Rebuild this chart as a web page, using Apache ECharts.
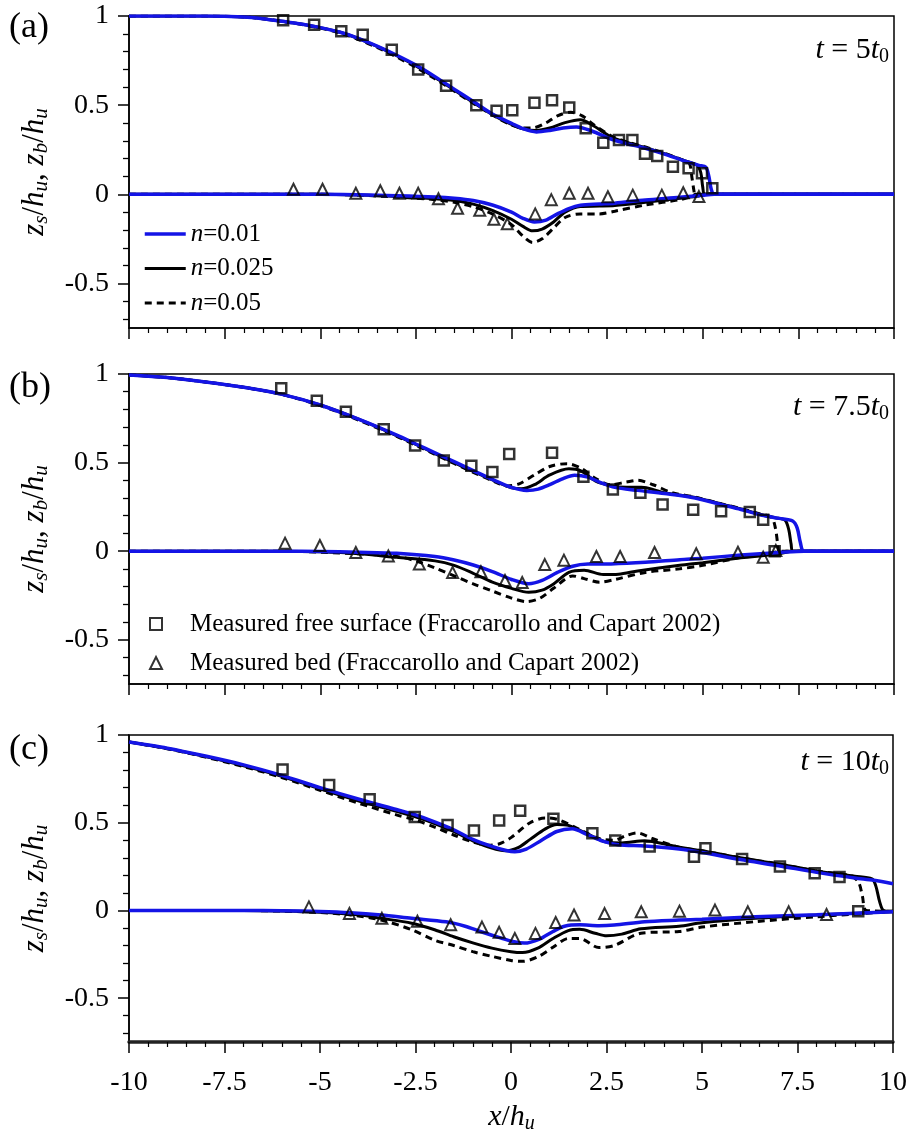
<!DOCTYPE html>
<html>
<head>
<meta charset="utf-8">
<script src="https://cdn.jsdelivr.net/npm/echarts@6/dist/echarts.min.js"></script>
<style>
html,body{margin:0;padding:0;background:#fff}
#chart{width:910px;height:1137px}
</style>
</head>
<body>
<div id="chart"></div>
<script>
// ---------- data: dam-break over mobile bed, three instants ----------
const xTickValues = [-10, -7.5, -5, -2.5, 0, 2.5, 5, 7.5, 10];
const yMajorTicks = [-0.5, 0, 0.5, 1];
const yMinorTicks = [-0.7, -0.6, -0.4, -0.3, -0.2, -0.1, 0.1, 0.2, 0.3, 0.4, 0.6, 0.7, 0.8, 0.9];
const panelTags = ['(a)', '(b)', '(c)'];
const panelTimes = ['5', '7.5', '10'];
const roughness = ['n=0.01', 'n=0.025', 'n=0.05'];
const nameSurf = 'Measured free surface (Fraccarollo and Capart 2002)';
const nameBed = 'Measured bed (Fraccarollo and Capart 2002)';

// (a) t = 5 t0 : free surface
const surfA_n001 = [[-10,1],[-8,1],[-7,0.995],[-6.5,0.985],[-6,0.97],[-5.5,0.955],[-5,0.935],[-4.5,0.91],[-4,0.875],[-3.5,0.83],[-3,0.78],[-2.5,0.725],[-2,0.66],[-1.5,0.59],[-1,0.52],[-0.5,0.45],[0,0.398],[0.3,0.368],[0.65,0.35],[1,0.358],[1.35,0.372],[1.7,0.378],[2.1,0.355],[2.6,0.31],[3,0.285],[3.5,0.258],[4,0.225],[4.5,0.188],[4.9,0.162],[5.08,0.152],[5.16,0.1],[5.22,0.03],[5.3,0],[10,0]];
const surfA_n0025 = [[-10,1],[-8,1],[-7,0.995],[-6.5,0.985],[-6,0.97],[-5.5,0.955],[-5,0.935],[-4.5,0.91],[-4,0.873],[-3.5,0.828],[-3,0.777],[-2.5,0.72],[-2,0.655],[-1.5,0.585],[-1,0.515],[-0.5,0.447],[0,0.392],[0.3,0.367],[0.65,0.358],[1,0.372],[1.4,0.402],[1.8,0.418],[2.1,0.39],[2.6,0.322],[3,0.292],[3.5,0.262],[4,0.228],[4.5,0.19],[4.85,0.163],[4.95,0.12],[5,0.04],[5.06,0],[10,0]];
const surfA_n005 = [[-10,1],[-8,1],[-7,0.995],[-6.5,0.985],[-6,0.97],[-5.5,0.953],[-5,0.932],[-4.5,0.906],[-4,0.868],[-3.5,0.822],[-3,0.77],[-2.5,0.712],[-2,0.648],[-1.5,0.58],[-1,0.51],[-0.5,0.445],[0,0.388],[0.3,0.372],[0.55,0.372],[0.9,0.4],[1.2,0.44],[1.55,0.46],[1.85,0.44],[2.15,0.39],[2.6,0.328],[3,0.295],[3.5,0.265],[4,0.23],[4.5,0.19],[4.65,0.175],[4.72,0.09],[4.77,0.02],[4.8,0],[10,0]];
// (a) bed
const bedA_n001 = [[-10,0],[-5,0],[-4,-0.003],[-3,-0.008],[-2,-0.015],[-1.5,-0.022],[-1,-0.035],[-0.5,-0.06],[0,-0.1],[0.3,-0.135],[0.6,-0.155],[0.9,-0.145],[1.2,-0.11],[1.5,-0.08],[1.8,-0.062],[2.3,-0.055],[2.7,-0.05],[3.5,-0.032],[4.4,-0.017],[5,-0.005],[5.3,0],[10,0]];
const bedA_n0025 = [[-10,0],[-5,0],[-4,-0.004],[-3,-0.012],[-2,-0.025],[-1.5,-0.035],[-1,-0.055],[-0.5,-0.09],[0,-0.14],[0.3,-0.18],[0.55,-0.205],[0.8,-0.195],[1.1,-0.155],[1.4,-0.1],[1.8,-0.068],[2.3,-0.066],[2.7,-0.063],[3.5,-0.045],[4.4,-0.022],[4.9,-0.01],[5.06,0],[10,0]];
const bedA_n005 = [[-10,0],[-5,0],[-4,-0.005],[-3,-0.015],[-2,-0.03],[-1.5,-0.045],[-1,-0.07],[-0.5,-0.11],[0,-0.17],[0.3,-0.235],[0.55,-0.27],[0.8,-0.25],[1.1,-0.19],[1.4,-0.13],[1.8,-0.11],[2.3,-0.11],[2.7,-0.095],[3.5,-0.06],[4.4,-0.03],[4.75,-0.01],[4.8,0],[10,0]];
// (a) measurements
const measSurfA_x = [-5.97,-5.16,-4.45,-3.89,-3.13,-2.44,-1.71,-0.92,-0.39,0.02,0.6,1.06,1.51,1.94,2.4,2.81,3.16,3.49,3.81,4.22,4.63,4.98,5.25];
const measSurfA_y = [0.976,0.951,0.914,0.895,0.811,0.7,0.609,0.5,0.468,0.472,0.514,0.527,0.487,0.37,0.289,0.304,0.304,0.227,0.215,0.155,0.146,0.118,0.034];
const measBedA_x = [-5.7,-4.94,-4.07,-3.43,-2.93,-2.44,-1.91,-1.41,-0.83,-0.46,-0.11,0.62,1.04,1.51,2,2.52,3.17,3.93,4.49,4.9];
const measBedA_y = [0.028,0.028,0.006,0.02,0.006,0.006,-0.025,-0.078,-0.09,-0.14,-0.165,-0.11,-0.03,0.006,0.006,-0.014,-0.005,-0.005,0.009,-0.013];

// (b) t = 7.5 t0 : free surface
const surfB_n001 = [[-10,0.995],[-9,0.98],[-8,0.955],[-7,0.925],[-6,0.885],[-5,0.825],[-4,0.745],[-3,0.655],[-2.5,0.605],[-2,0.555],[-1.5,0.505],[-1,0.455],[-0.5,0.405],[0,0.36],[0.4,0.343],[0.7,0.35],[1,0.375],[1.35,0.41],[1.65,0.428],[2,0.418],[2.3,0.39],[2.7,0.36],[3.3,0.343],[4,0.325],[4.8,0.3],[5.5,0.262],[6,0.235],[6.5,0.205],[7,0.185],[7.35,0.17],[7.47,0.13],[7.55,0.05],[7.65,0],[10,0]];
const surfB_n0025 = [[-10,0.995],[-9,0.98],[-8,0.955],[-7,0.925],[-6,0.885],[-5,0.825],[-4,0.745],[-3,0.652],[-2.5,0.602],[-2,0.551],[-1.5,0.5],[-1,0.45],[-0.5,0.402],[0,0.358],[0.25,0.352],[0.6,0.375],[1,0.43],[1.5,0.465],[1.8,0.455],[2.2,0.395],[2.6,0.37],[3,0.36],[3.4,0.36],[4,0.33],[4.8,0.303],[5.5,0.265],[6,0.238],[6.5,0.207],[6.9,0.188],[7.15,0.175],[7.25,0.12],[7.31,0.04],[7.36,0],[10,0]];
const surfB_n005 = [[-10,0.995],[-9,0.98],[-8,0.955],[-7,0.925],[-6,0.884],[-5,0.822],[-4,0.74],[-3,0.648],[-2.5,0.598],[-2,0.546],[-1.5,0.495],[-1,0.445],[-0.5,0.398],[-0.1,0.368],[0.2,0.38],[0.6,0.43],[1,0.478],[1.45,0.494],[1.8,0.47],[2.2,0.41],[2.6,0.375],[3,0.39],[3.3,0.4],[3.7,0.375],[4.2,0.33],[4.8,0.305],[5.5,0.266],[6,0.24],[6.5,0.21],[6.8,0.19],[6.9,0.13],[6.96,0.04],[7,0],[10,0]];
// (b) bed
const bedB_n001 = [[-10,0],[-6,0],[-5,-0.002],[-4,-0.006],[-3,-0.012],[-2,-0.03],[-1.5,-0.05],[-1,-0.078],[-0.5,-0.115],[0,-0.16],[0.45,-0.184],[0.8,-0.165],[1.2,-0.12],[1.6,-0.085],[2,-0.073],[2.6,-0.072],[3.5,-0.063],[4.4,-0.048],[5,-0.04],[6,-0.022],[7,-0.008],[7.65,0],[10,0]];
const bedB_n0025 = [[-10,0],[-6,0],[-5,-0.004],[-4,-0.015],[-3,-0.035],[-2,-0.055],[-1.5,-0.08],[-1,-0.125],[-0.5,-0.175],[0,-0.21],[0.45,-0.232],[0.8,-0.22],[1.1,-0.185],[1.5,-0.12],[1.9,-0.108],[2.4,-0.132],[2.8,-0.13],[3.3,-0.112],[4.4,-0.08],[5,-0.065],[6,-0.038],[7,-0.015],[7.36,0],[10,0]];
const bedB_n005 = [[-10,0],[-6,0],[-5,-0.006],[-4,-0.015],[-3,-0.03],[-2.5,-0.055],[-2,-0.095],[-1.5,-0.14],[-1,-0.185],[-0.5,-0.225],[0,-0.265],[0.4,-0.285],[0.75,-0.265],[1.1,-0.21],[1.6,-0.14],[1.9,-0.155],[2.3,-0.175],[2.7,-0.16],[3.5,-0.12],[4.4,-0.1],[5,-0.08],[6,-0.035],[6.9,-0.005],[7,0],[10,0]];
// (b) measurements
const measSurfB_x = [-6.02,-5.09,-4.33,-3.34,-2.52,-1.77,-1.05,-0.5,-0.06,1.06,1.88,2.65,3.37,3.95,4.75,5.48,6.23,6.58,6.88];
const measSurfB_y = [0.919,0.849,0.787,0.688,0.597,0.512,0.482,0.447,0.548,0.555,0.42,0.348,0.33,0.264,0.234,0.225,0.221,0.177,0];
const measBedB_x = [-5.92,-5.01,-4.07,-3.22,-2.41,-1.54,-0.8,-0.17,0.28,0.87,1.37,2.22,2.84,3.74,4.83,5.92,6.58,6.91];
const measBedB_y = [0.045,0.032,-0.008,-0.027,-0.073,-0.12,-0.116,-0.166,-0.177,-0.076,-0.051,-0.03,-0.03,-0.008,-0.015,-0.006,-0.034,0.004];

// (c) t = 10 t0 : free surface
const surfC_n001 = [[-10,0.96],[-9,0.925],[-8,0.88],[-7,0.83],[-6,0.77],[-5,0.7],[-4,0.635],[-3,0.575],[-2.5,0.545],[-2,0.505],[-1.5,0.46],[-1,0.405],[-0.5,0.365],[-0.1,0.34],[0.1,0.335],[0.4,0.35],[0.8,0.4],[1.2,0.45],[1.6,0.465],[2,0.432],[2.4,0.395],[2.8,0.375],[3.5,0.367],[4.4,0.35],[5,0.33],[6,0.29],[7,0.255],[8,0.217],[9,0.185],[9.5,0.172],[10,0.152]];
const surfC_n0025 = [[-10,0.96],[-9,0.923],[-8,0.877],[-7,0.825],[-6,0.765],[-5,0.693],[-4,0.625],[-3,0.565],[-2.5,0.533],[-2,0.495],[-1.5,0.45],[-1,0.397],[-0.5,0.355],[-0.15,0.34],[0.2,0.36],[0.5,0.405],[0.9,0.465],[1.2,0.49],[1.5,0.485],[2,0.436],[2.5,0.39],[2.9,0.385],[3.5,0.397],[4,0.38],[4.4,0.36],[5,0.34],[6,0.3],[7,0.265],[8,0.225],[9,0.195],[9.45,0.18],[9.55,0.14],[9.65,0.05],[9.75,0],[10,-0.006]];
const surfC_n005 = [[-10,0.96],[-9,0.922],[-8,0.874],[-7,0.82],[-6,0.758],[-5,0.685],[-4,0.612],[-3,0.545],[-2.5,0.515],[-2,0.475],[-1.5,0.43],[-1,0.39],[-0.6,0.372],[-0.3,0.38],[0,0.415],[0.5,0.5],[0.9,0.527],[1.2,0.52],[1.8,0.461],[2.3,0.41],[2.7,0.4],[3,0.425],[3.3,0.442],[3.7,0.41],[4.4,0.36],[5,0.34],[6,0.3],[7,0.265],[8,0.225],[8.9,0.197],[9.1,0.16],[9.2,0.08],[9.3,0],[10,-0.005]];
// (c) bed
const bedC_n001 = [[-10,0],[-7,0],[-6,-0.002],[-5,-0.006],[-4.2,-0.013],[-3.4,-0.026],[-2.6,-0.045],[-1.7,-0.065],[-1.2,-0.09],[-0.8,-0.12],[-0.3,-0.155],[0.05,-0.177],[0.35,-0.186],[0.75,-0.163],[1.1,-0.12],[1.4,-0.09],[1.8,-0.082],[2.3,-0.087],[2.7,-0.083],[3.5,-0.064],[4.4,-0.055],[5,-0.05],[6.4,-0.036],[8,-0.025],[10,-0.008]];
const bedC_n0025 = [[-10,0],[-7,0],[-6,-0.003],[-5,-0.01],[-4,-0.025],[-3.4,-0.045],[-2.6,-0.073],[-2,-0.11],[-1.5,-0.15],[-1,-0.185],[-0.5,-0.215],[0,-0.235],[0.3,-0.24],[0.7,-0.215],[1.1,-0.16],[1.5,-0.115],[1.8,-0.108],[2.2,-0.13],[2.5,-0.145],[2.9,-0.135],[3.4,-0.105],[4.4,-0.09],[5,-0.07],[6.4,-0.045],[8,-0.026],[9.5,-0.012],[10,-0.008]];
const bedC_n005 = [[-10,0],[-7,0],[-6,-0.004],[-5,-0.012],[-4.2,-0.026],[-3.4,-0.055],[-2.6,-0.11],[-2,-0.17],[-1.5,-0.2],[-1,-0.235],[-0.5,-0.262],[0,-0.285],[0.3,-0.29],[0.7,-0.265],[1.1,-0.21],[1.5,-0.16],[1.8,-0.16],[2.3,-0.212],[2.7,-0.2],[3.4,-0.13],[4.4,-0.12],[5,-0.095],[6.4,-0.064],[8,-0.036],[9.5,-0.013],[10,-0.005]];
// (c) measurements
const measSurfC_x = [-5.98,-4.76,-3.7,-2.52,-1.66,-0.97,-0.31,0.24,1.11,2.13,2.73,3.63,4.79,5.09,6.05,7.04,7.95,8.6,9.09];
const measSurfC_y = [0.803,0.715,0.634,0.532,0.487,0.456,0.512,0.568,0.523,0.44,0.398,0.364,0.306,0.355,0.293,0.25,0.212,0.19,-0.004];
const measBedC_x = [-5.29,-4.23,-3.38,-2.45,-1.58,-0.76,-0.31,0.1,0.64,1.17,1.65,2.45,3.41,4.41,5.34,6.2,7.27,8.26];
const measBedC_y = [0.02,-0.017,-0.045,-0.062,-0.081,-0.095,-0.125,-0.16,-0.131,-0.069,-0.026,-0.018,-0.008,-0.004,0.002,-0.008,-0.008,-0.023];

// ---------- styling ----------
const FONT = 'Liberation Serif';
const BLUE = '#1414e6';
const BLACK = '#000000';
const gridBoxes = [
  { top: 16, height: 312 },
  { top: 374, height: 310 },
  { top: 735, height: 307 }
];
const PLOT_LEFT = 129, PLOT_RIGHT = 894;

const panels = [
  { surf: [surfA_n001, surfA_n0025, surfA_n005], bed: [bedA_n001, bedA_n0025, bedA_n005],
    ms: [measSurfA_x, measSurfA_y], mb: [measBedA_x, measBedA_y] },
  { surf: [surfB_n001, surfB_n0025, surfB_n005], bed: [bedB_n001, bedB_n0025, bedB_n005],
    ms: [measSurfB_x, measSurfB_y], mb: [measBedB_x, measBedB_y] },
  { surf: [surfC_n001, surfC_n0025, surfC_n005], bed: [bedC_n001, bedC_n0025, bedC_n005],
    ms: [measSurfC_x, measSurfC_y], mb: [measBedC_x, measBedC_y] }
];

const lineStyles = [
  { color: BLUE, width: 3.5, type: 'solid' },
  { color: BLACK, width: 3, type: 'solid' },
  { color: BLACK, width: 3, type: [7, 5] }
];

const zip = (xs, ys) => xs.map((x, i) => [x, ys[i]]);

const grid = gridBoxes.map(g => ({
  left: PLOT_LEFT, width: PLOT_RIGHT - PLOT_LEFT, top: g.top, height: g.height,
  show: true, borderColor: '#000', borderWidth: 1.5, containLabel: false
}));

const xAxis = gridBoxes.map((g, i) => ({
  type: 'value', gridIndex: i, min: -10, max: 10, interval: 2.5, position: 'bottom',
  axisLine: { show: true, onZero: false, lineStyle: { color: i === 2 ? '#222' : '#000', width: i === 2 ? 3.5 : 1.5 } },
  axisTick: { show: true, inside: false, length: 11, lineStyle: { color: '#000', width: 1.5 } },
  minorTick: { show: true, splitNumber: 5, length: 5, lineStyle: { color: '#000', width: 1.2 } },
  splitLine: { show: false },
  axisLabel: {
    show: i === 2, margin: 27, color: '#000', fontFamily: FONT, fontSize: 28,
    customValues: xTickValues
  }
}));

const yAxis = [];
gridBoxes.forEach((g, i) => {
  yAxis.push({
    type: 'value', gridIndex: i, min: -0.75, max: 1, position: 'left',
    axisLine: { show: true, onZero: false, lineStyle: { color: '#000', width: 1.5 } },
    axisTick: { show: true, inside: false, length: 11, customValues: yMajorTicks,
                lineStyle: { color: '#000', width: 1.5 } },
    splitLine: { show: false },
    axisLabel: { show: true, margin: 20, color: '#000', fontFamily: FONT, fontSize: 28,
                 customValues: yMajorTicks }
  });
  yAxis.push({
    type: 'value', gridIndex: i, min: -0.75, max: 1, position: 'left', offset: 0,
    axisLine: { show: false, onZero: false },
    axisTick: { show: true, inside: false, length: 6, customValues: yMinorTicks,
                lineStyle: { color: '#000', width: 1.3 } },
    splitLine: { show: false },
    axisLabel: { show: false }
  });
});

const series = [];
panels.forEach((p, i) => {
  // dashed and thin-black curves first, blue on top
  [2, 1, 0].forEach(k => {
    [p.bed[k], p.surf[k]].forEach(data => {
      series.push({
        type: 'line', name: roughness[k], xAxisIndex: i, yAxisIndex: 2 * i,
        data: data, showSymbol: false, symbol: 'none', smooth: 0.3,
        lineStyle: lineStyles[k], itemStyle: { color: lineStyles[k].color },
        z: 3
      });
    });
  });
  series.push({
    type: 'scatter', name: nameSurf, xAxisIndex: i, yAxisIndex: 2 * i,
    data: zip(p.ms[0], p.ms[1]), symbol: 'rect', symbolSize: 10,
    itemStyle: { color: 'rgba(255,255,255,0)', borderColor: '#000', borderWidth: 2.5 }, z: 4
  });
  series.push({
    type: 'scatter', name: nameBed, xAxisIndex: i, yAxisIndex: 2 * i,
    data: zip(p.mb[0], p.mb[1]), symbol: 'triangle', symbolSize: 11,
    itemStyle: { color: 'rgba(255,255,255,0)', borderColor: '#000', borderWidth: 2 }, z: 4
  });
});

const richItalic = {
  i: { fontFamily: FONT, fontStyle: 'italic', fontSize: 25, color: '#000' },
  r: { fontFamily: FONT, fontSize: 25, color: '#000' }
};

const legend = [
  {
    data: roughness.map((n, k) => ({ name: n, lineStyle: Object.assign({}, lineStyles[k]) })),
    orient: 'vertical', left: 138, top: 216,
    itemWidth: 41, itemHeight: 14, itemGap: 8.5,
    itemStyle: { opacity: 0 },
    formatter: name => '{i|n}{r|' + name.slice(1) + '}',
    textStyle: { fontFamily: FONT, fontSize: 25, lineHeight: 26, color: '#000', rich: richItalic },
    selectedMode: false
  },
  {
    data: [nameSurf, nameBed], orient: 'vertical', left: 144, top: 605,
    itemWidth: 12, itemHeight: 12, itemGap: 11,
    textStyle: { fontFamily: FONT, fontSize: 25, lineHeight: 28, color: '#000', padding: [0, 0, 0, 23] },
    selectedMode: false
  }
];

// panel tags, time labels, axis titles
const graphic = [];
const tagY = [28, 388, 750];
const timeY = [50, 407, 762];
gridBoxes.forEach((g, i) => {
  graphic.push({
    type: 'text', x: 9, y: tagY[i],
    style: { text: panelTags[i], fontFamily: FONT, fontSize: 36, fill: '#000',
             textAlign: 'left', textVerticalAlign: 'middle' }
  });
  graphic.push({
    type: 'text', x: 889, y: timeY[i],
    style: {
      text: '{i|t}{r| = ' + panelTimes[i] + '}{i|t}{s|0}',
      textAlign: 'right', textVerticalAlign: 'middle',
      rich: {
        i: { fontFamily: FONT, fontStyle: 'italic', fontSize: 30, lineHeight: 34, fill: '#000' },
        r: { fontFamily: FONT, fontSize: 30, lineHeight: 34, fill: '#000' },
        s: { fontFamily: FONT, fontSize: 20, verticalAlign: 'bottom', fill: '#000' }
      }
    }
  });
  graphic.push({
    type: 'text', x: 35, y: g.top + g.height / 2, rotation: Math.PI / 2,
    style: {
      text: '{i|z}{s|s}{r|/}{i|h}{s|u}{r|, }{i|z}{s|b}{r|/}{i|h}{s|u}',
      textAlign: 'center', textVerticalAlign: 'middle',
      rich: {
        i: { fontFamily: FONT, fontStyle: 'italic', fontSize: 31, lineHeight: 34, fill: '#000' },
        r: { fontFamily: FONT, fontSize: 31, lineHeight: 34, fill: '#000' },
        s: { fontFamily: FONT, fontStyle: 'italic', fontSize: 21, verticalAlign: 'bottom', fill: '#000' }
      }
    }
  });
});
graphic.push({
  type: 'text', x: (PLOT_LEFT + PLOT_RIGHT) / 2, y: 1117,
  style: {
    text: '{i|x}{r|/}{i|h}{s|u}',
    textAlign: 'center', textVerticalAlign: 'middle',
    rich: {
      i: { fontFamily: FONT, fontStyle: 'italic', fontSize: 30, lineHeight: 34, fill: '#000' },
      r: { fontFamily: FONT, fontSize: 30, lineHeight: 34, fill: '#000' },
      s: { fontFamily: FONT, fontStyle: 'italic', fontSize: 20, verticalAlign: 'bottom', fill: '#000' }
    }
  }
});

const chart = echarts.init(document.getElementById('chart'), null, { renderer: 'canvas' });
chart.setOption({
  animation: false,
  backgroundColor: '#fff',
  grid, xAxis, yAxis, series, legend, graphic
});
</script>
</body>
</html>
